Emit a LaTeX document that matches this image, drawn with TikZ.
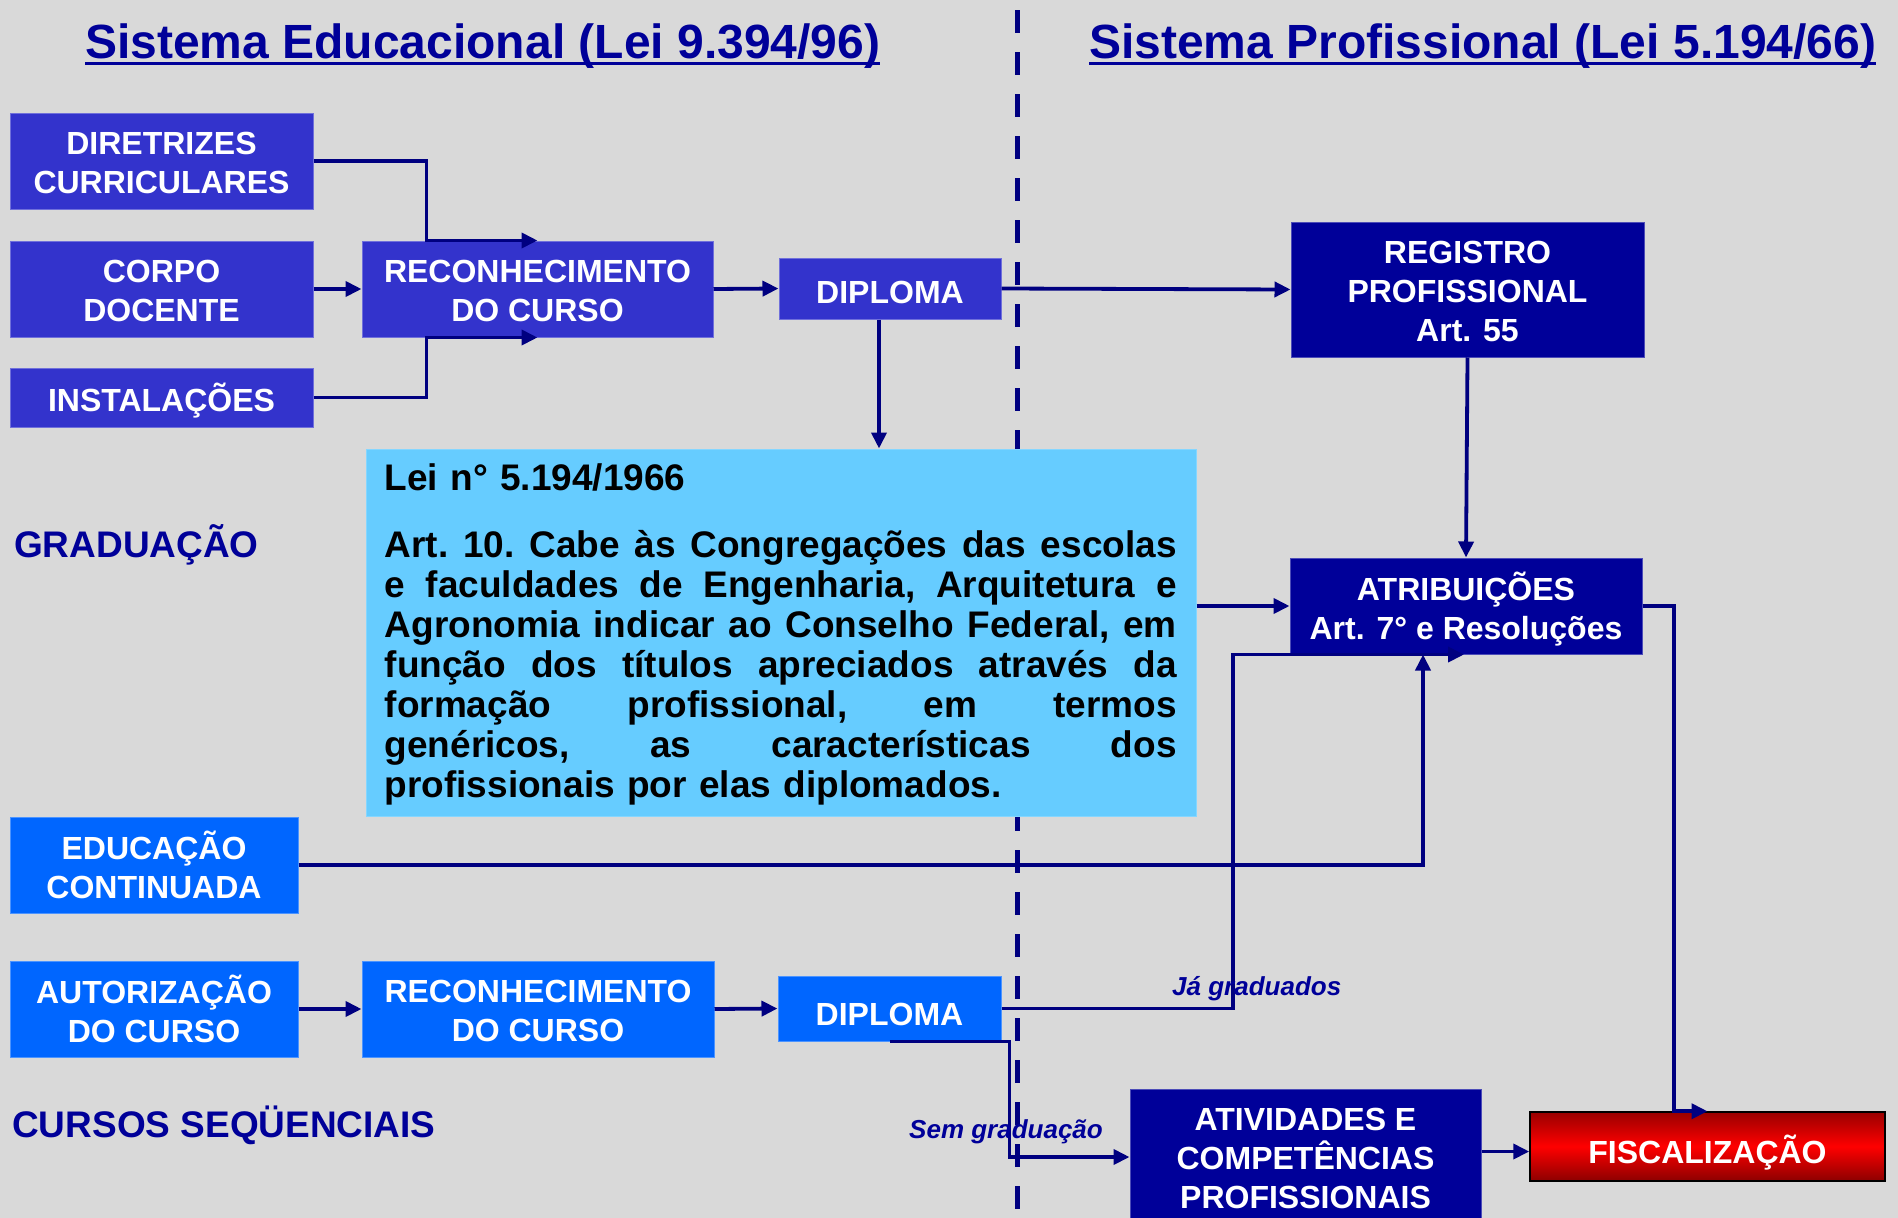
\documentclass[tikz,border=0pt]{standalone}
\usepackage{fontspec}
\setmainfont{Liberation Sans}
\usetikzlibrary{arrows.meta}
\definecolor{fundo}{HTML}{D9D9D9}
\definecolor{azulmedio}{HTML}{3333CC}
\definecolor{azulescuro}{HTML}{000099}
\definecolor{azulvivo}{HTML}{0066FF}
\definecolor{azulclaro}{HTML}{66CCFF}
\definecolor{linha}{HTML}{000080}
\newcommand{\jline}[1]{\makebox[792pt][s]{\frenchspacing\spaceskip=\fontdimen2\font plus 1fil\relax #1}}
\newcommand{\altura}[1][27pt]{\rule{0pt}{#1}}

\begin{document}
\begin{tikzpicture}[x=1pt, y=-1pt,
    caixa/.style={text=white, align=center, inner sep=0pt,
      font=\fontsize{32}{39}\selectfont\bfseries},
    edu/.style={caixa, fill=azulmedio, draw=azulmedio!70!white, line width=1pt},
    seq/.style={caixa, fill=azulvivo, draw=azulvivo!70!white, line width=1pt},
    prof/.style={caixa, fill=azulescuro, draw=azulescuro!70!white, line width=1pt},
    conn/.style={draw=linha, line width=3.8pt, -{Triangle[length=16pt,width=15pt]}},
    titulo/.style={anchor=base west, inner sep=0pt, text=azulescuro,
      font=\fontsize{48}{56}\selectfont\bfseries},
    rotulo/.style={anchor=base west, inner sep=0pt, text=azulescuro,
      font=\fontsize{37}{40}\selectfont\bfseries},
    nota/.style={anchor=base west, inner sep=0pt, text=azulescuro,
      font=\fontsize{26}{30}\selectfont\bfseries\itshape}]

			% fundo e divisao
			\clip (0,0) rectangle (1898,1218);
			\fill[fundo] (0,0) rectangle (1898,1218);
			\draw[linha, line width=5pt, dash pattern=on 23pt off 19pt] (1017,10) -- (1017,1218);

			% titulos
			\node[titulo] (tedu) at (85,58) {Sistema Educacional (Lei 9.394/96)};
			\node[titulo] (tprof) at (1089,58) {Sistema Profissional (Lei 5.194/66)};
			\draw[azulescuro, line width=3pt] ([yshift=-5pt]tedu.base west) -- ([yshift=-5pt]tedu.base east);
			\draw[azulescuro, line width=3pt] ([yshift=-5pt]tprof.base west) -- ([yshift=-5pt]tprof.base east);
			\node[rotulo] (grad) at (14,557) {GRADUAÇÃO};
			\node[rotulo] (cseq) at (12,1137) {CURSOS SEQÜENCIAIS};

			% sistema educacional
			\node[edu, minimum width=303pt, minimum height=96pt] (dir) at (161.5,161) {\altura DIRETRIZES\\CURRICULARES};
			\node[edu, minimum width=303pt, minimum height=96pt] (corpo) at (161.5,289) {\altura[26pt]CORPO\\DOCENTE};
			\node[edu, minimum width=303pt, minimum height=59pt] (inst) at (161.5,397.5) {\altura[34pt]INSTALAÇÕES};
			\node[edu, minimum width=351pt, minimum height=96pt] (recA) at (537.5,289) {\altura[26pt]RECONHECIMENTO\\DO CURSO};
			\node[edu, minimum width=222pt, minimum height=61pt] (dipA) at (890,288.5) {\altura[30pt]DIPLOMA};
			\node[seq, minimum width=288pt, minimum height=96pt] (educ) at (154,865) {EDUCAÇÃO\\CONTINUADA};
			\node[seq, minimum width=288pt, minimum height=96pt] (aut) at (154,1009) {AUTORIZAÇÃO\\DO CURSO};
			\node[seq, minimum width=352pt, minimum height=96pt] (recB) at (538,1009) {\altura[26pt]RECONHECIMENTO\\DO CURSO};
			\node[seq, minimum width=223pt, minimum height=65pt] (dipB) at (889.5,1008.5) {\altura[34pt]DIPLOMA};

			% sistema profissional
			\node[prof, minimum width=353pt, minimum height=135pt] (reg) at (1467.5,289.5) {\altura REGISTRO\\PROFISSIONAL\\Art. 55};
			\node[prof, minimum width=352pt, minimum height=96pt] (atr) at (1466,606) {\altura[35pt]ATRIBUIÇÕES\\Art. 7° e Resoluções};
			\node[prof, minimum width=351pt, minimum height=136pt] (ativ) at (1305.5,1157) {\altura[25pt]ATIVIDADES E\\COMPETÊNCIAS\\PROFISSIONAIS};
			\node[caixa, minimum width=355pt, minimum height=69pt, draw=black, line width=1.5pt,
			  top color=red!60!black, bottom color=red!55!black, middle color=red] (fisc) at (1707.5,1146.5) {\altura[41pt]FISCALIZAÇÃO};

			% lei 5.194
			\node[fill=azulclaro, draw=azulclaro!80!white, line width=1pt, minimum width=830pt, minimum height=367pt] (lei) at (781,632.5) {};
			\node[anchor=north west, inner sep=0pt, text width=792pt, align=left,
			  font=\fontsize{37}{40}\selectfont\bfseries] (leitxt) at ([xshift=19pt,yshift=-15pt]lei.north west)
			  {Lei n° 5.194/1966\\[27pt]
			   \jline{Art. 10. Cabe às Congregações das escolas}\\
			   \jline{e faculdades de Engenharia, Arquitetura e}\\
			   \jline{Agronomia indicar ao Conselho Federal, em}\\
			   \jline{função dos títulos apreciados através da}\\
			   \jline{formação profissional, em termos}\\
			   \jline{genéricos, as características dos}\\
			   profissionais por elas diplomados.};

			% ligacoes
			\draw[conn] (dir.east) -| ([xshift=65pt]recA.north west) -- (recA.north);
			\draw[conn] (inst.east) -| ([xshift=65pt]recA.south west) -- (recA.south);
			\draw[conn] (corpo.east) -- (recA.west);
			\draw[conn] (recA.east) -- (dipA.west);
			\draw[conn] (dipA.east) -- (reg.west);
			\draw[conn] ([xshift=-11pt]dipA.south) -- ([xshift=-11pt]dipA.south |- lei.north);
			\draw[conn] (reg.south) -- (atr.north);
			\draw[conn] (atr.west -| lei.east) -- (atr.west);
			\draw[conn] (atr.east) -| ([xshift=-33.5pt]fisc.north) -- (fisc.north);
			\draw[conn] (educ.east) -| ([xshift=-43pt]atr.south);
			\draw[conn] (aut.east) -- (recB.west);
			\draw[conn] (recB.east) -- (dipB.west);
			\draw[conn] (dipB.east) -| ([xshift=-233pt]atr.south) -- ([xshift=-2pt]atr.south);
			\draw[conn] (dipB.south) -- ++(120,0) |- (ativ.west);
			\draw[conn] ([yshift=-5pt]fisc.west -| ativ.east) -- ([yshift=-5pt]fisc.west);
			\node[nota] (jagrad) at (1172,995) {Já graduados};
			\node[nota] (semgrad) at (909,1138) {Sem graduação};
		\end{tikzpicture}
\end{document}
